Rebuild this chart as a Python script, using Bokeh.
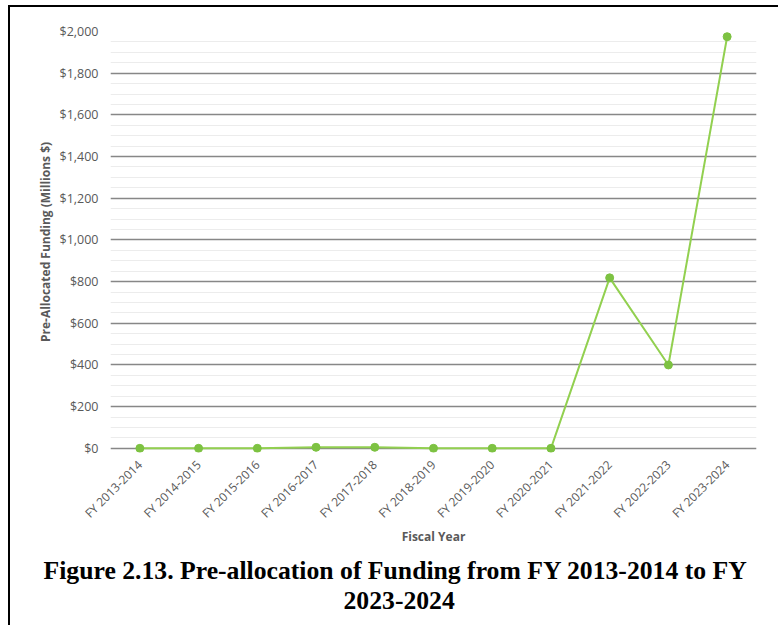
from bokeh.plotting import figure
from bokeh.models import (Range1d, SingleIntervalTicker, NumeralTickFormatter,
                          Title, ColumnDataSource)
from bokeh.embed import file_html
from bokeh.resources import INLINE
import math

categories = ["FY 2013-2014", "FY 2014-2015", "FY 2015-2016", "FY 2016-2017",
              "FY 2017-2018", "FY 2018-2019", "FY 2019-2020", "FY 2020-2021",
              "FY 2021-2022", "FY 2022-2023", "FY 2023-2024"]
funding = [0, 0, 0, 5, 5, 0, 0, 0, 818, 400, 1975]

caption_line1 = "Figure 2.13. Pre-allocation of Funding from FY 2013-2014 to FY"
caption_line2 = "2023-2024"

src = ColumnDataSource(dict(cat=categories, val=funding))

W, H = 770, 620
p = figure(width=W, height=H, x_range=categories, y_range=Range1d(-20, 2000),
           output_backend="svg", toolbar_location=None,
           min_border_left=100, min_border_right=24, min_border_top=24,
           min_border_bottom=175)
p.styles = {"border-left": "2px solid black", "border-top": "2px solid black",
            "margin-left": "8px", "margin-top": "5px"}
p.outline_line_color = None
p.background_fill_color = "white"
p.border_fill_color = "white"

p.line("cat", "val", source=src, line_color="#92D050", line_width=2)
p.scatter("cat", "val", source=src, size=8, fill_color="#7DC242",
          line_color="#7DC242")

# axes
yax = p.yaxis[0]
yax.ticker = SingleIntervalTicker(interval=200, num_minor_ticks=4)
yax.formatter = NumeralTickFormatter(format="$0,0")
yax.axis_line_color = None
yax.major_tick_line_color = None
yax.minor_tick_line_color = None
yax.major_tick_out = 0
yax.major_tick_in = 0
yax.minor_tick_out = 0
yax.major_label_standoff = 12
yax.major_label_text_font = "Open Sans"
yax.major_label_text_font_size = "12.5px"
yax.major_label_text_color = "#595959"
yax.axis_label = "Pre-Allocated Funding (Millions $)"
yax.axis_label_text_font = "Open Sans"
yax.axis_label_text_font_size = "12px"
yax.axis_label_text_font_style = "bold"
yax.axis_label_text_color = "#595959"
yax.axis_label_standoff = 3

xax = p.xaxis[0]
xax.axis_line_color = None
xax.major_tick_line_color = None
xax.minor_tick_line_color = None
xax.major_tick_out = 0
xax.major_tick_in = 0
xax.minor_tick_out = 0
xax.major_label_orientation = math.pi / 4
xax.major_label_standoff = 10
xax.major_label_text_font = "Open Sans"
xax.major_label_text_font_size = "12px"
xax.major_label_text_color = "#595959"
xax.axis_label = "Fiscal Year"
xax.axis_label_text_font = "Open Sans"
xax.axis_label_text_font_size = "12px"
xax.axis_label_text_font_style = "bold"
xax.axis_label_text_color = "#595959"
xax.axis_label_standoff = -2

p.xgrid.grid_line_color = None
p.ygrid.grid_line_color = "#878787"
p.ygrid.grid_line_width = 1.5
p.ygrid.minor_grid_line_color = "#ececec"
p.ygrid.minor_grid_line_width = 1

for txt, off, so in ((caption_line1, -67, 10), (caption_line2, 233, 0)):
    p.add_layout(Title(text=txt, align="left", offset=off,
                       text_font="Liberation Serif", text_font_style="bold",
                       text_font_size="25.7px", text_color="black",
                       standoff=so), "below")

open("out.html", "w").write(file_html(p, INLINE))
